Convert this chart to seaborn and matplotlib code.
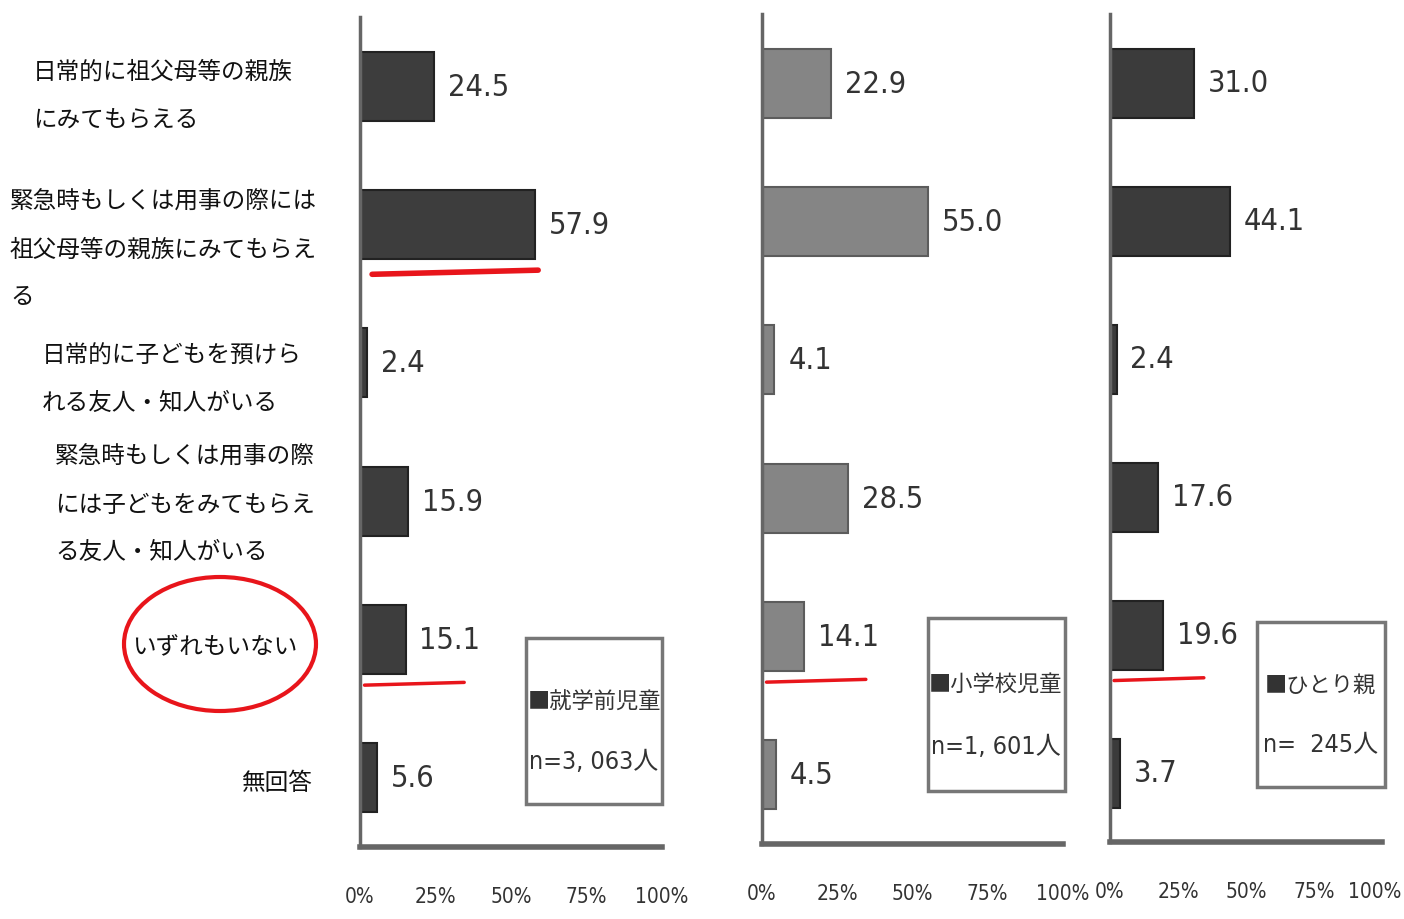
import numpy as np
import seaborn as sns
import matplotlib.pyplot as plt
import matplotlib.transforms as mtransforms
from matplotlib.patches import Ellipse, Rectangle
from matplotlib.lines import Line2D

sns.set_style('white')
plt.rcParams['font.family'] = ['Noto Sans CJK JP', 'DejaVu Sans']

# categories (y axis, top to bottom)
categories = [
    '日常的に祖父母等の親族\nにみてもらえる',
    '緊急時もしくは用事の際には\n祖父母等の親族にみてもらえ\nる',
    '日常的に子どもを預けら\nれる友人・知人がいる',
    '緊急時もしくは用事の際\nには子どもをみてもらえ\nる友人・知人がいる',
    'いずれもいない',
    '無回答',
]

# percentages per group
preschool = [24.5, 57.9, 2.4, 15.9, 15.1, 5.6]
elementary = [22.9, 55.0, 4.1, 28.5, 14.1, 4.5]
single_parent = [31.0, 44.1, 2.4, 17.6, 19.6, 3.7]

group_names = ['■就学前児童', '■小学校児童', '■ひとり親']
group_n = ['n=3, 063人', 'n=1, 601人', 'n=  245人']

xticks = [0, 25, 50, 75, 100]
xtick_labels = ['0%', '25%', '50%', '75%', '100%']

num_font = dict(family=['DejaVu Sans', 'Noto Sans CJK JP'], fontstretch='condensed')

fig = plt.figure(figsize=(14.04, 9.2), dpi=100)

# axes rectangles in figure fraction
panels = [
    [360 / 1404, 72 / 920, 302 / 1404, 830 / 920],
    [762 / 1404, 75 / 920, 301 / 1404, 830 / 920],
    [1110 / 1404, 77 / 920, 272 / 1404, 828 / 920],
]
bar_colors = ['#3d3d3d', '#858585', '#3b3b3b']
edge_colors = ['#222222', '#5c5c5c', '#222222']
# legend boxes (axes fraction: x0, y0, w, h)
legend_boxes = [
    (0.55, 0.052, 0.45, 0.2),
    (0.55, 0.064, 0.455, 0.208),
    (0.54, 0.066, 0.47, 0.2),
]

series = [preschool, elementary, single_parent]

axes = []
for i, vals in enumerate(series):
    ax = fig.add_axes(panels[i])
    sns.barplot(x=vals, y=categories, color=bar_colors[i], width=0.5,
                edgecolor=edge_colors[i], linewidth=1.5, saturation=1, ax=ax)
    ax.set_xlim(0, 100)
    ax.set_ylim(5.5, -0.5)
    ax.set_xlabel('')
    ax.set_ylabel('')
    ax.set_xticks(xticks)
    ax.set_xticklabels(xtick_labels, fontsize=15, color='#333333', **num_font)
    ax.set_yticks(np.arange(len(categories)) + 0.5)
    ax.set_yticklabels([])
    ax.tick_params(axis='x', direction='in', length=9, width=1.5, color='#666666', pad=28)
    ax.tick_params(axis='y', direction='out', length=3, width=1.5, color='#666666')
    for s in ['top', 'right']:
        ax.spines[s].set_visible(False)
    ax.spines['left'].set_color('#666666')
    ax.spines['left'].set_linewidth(2.5)
    ax.spines['bottom'].set_color('#666666')
    ax.spines['bottom'].set_linewidth(4)

    for j, v in enumerate(vals):
        ax.annotate(f'{v:.1f}', (v, j), xytext=(10, 0), textcoords='offset points',
                    va='center', ha='left', fontsize=22, color='#333333', **num_font)

    x0, y0, w, h = legend_boxes[i]
    ax.add_patch(Rectangle((x0, y0), w, h, transform=ax.transAxes, fill=False,
                           edgecolor='#777777', linewidth=2.5, clip_on=False))
    ax.text(x0 + w / 2, y0 + h * 0.62, group_names[i], transform=ax.transAxes,
            ha='center', va='center', fontsize=16, color='#333333')
    ax.text(x0 + w / 2, y0 + h * 0.26, group_n[i], transform=ax.transAxes,
            ha='center', va='center', fontsize=18, color='#333333', **num_font)

    # red underline marks
    ax.add_line(Line2D([1.5, 34.5], [4.33, 4.31], color='#e8151b', linewidth=2.5))
    axes.append(ax)

axes[0].add_line(Line2D([4, 59], [1.36, 1.33], color='#e8151b', linewidth=4))

# keep the last tick label of the right panel inside the figure
last = axes[2].get_xticklabels()[-1]
last.set_transform(last.get_transform() +
                   mtransforms.ScaledTranslation(-7 / 100, 0, fig.dpi_scale_trans))

# category labels placed by hand at the left
label_x = [33, 10, 42, 55, 132, 313]
label_ha = ['left', 'left', 'left', 'left', 'left', 'right']
label_y = [96, 250, 380, 505, 648, 784]
for lab, lx, ly, ha in zip(categories, label_x, label_y, label_ha):
    fig.text(lx / 1404, 1 - ly / 920, lab, ha=ha, va='center', fontsize=17,
             linespacing=2.38, color='#111111')

fig.add_artist(Ellipse((220 / 1404, 1 - 645 / 920), 192 / 1404, 134 / 920,
                       transform=fig.transFigure, fill=False, edgecolor='#e8151b',
                       linewidth=3))

fig.savefig('out.png', dpi=100, facecolor='white')
